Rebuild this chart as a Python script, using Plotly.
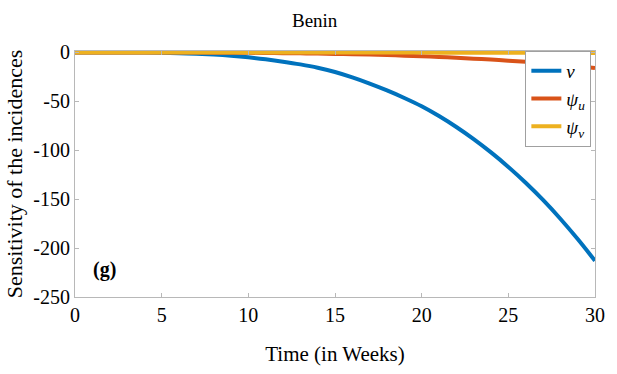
import plotly.graph_objects as go

weeks = list(range(0, 31))
sens_v = [0, 0, -0.01, -0.05, -0.16, -0.38, -0.75, -1.35, -2.2, -3.4, -5.0, -7.0, -9.4, -12.2,
          -15.6, -20, -25.5, -31.8, -38.8, -46.5, -55, -65, -76.2, -88.6, -102.2, -117,
          -133.2, -150.8, -170, -190.8, -213]
sens_psi_u = [0, 0, 0, 0, -0.01, -0.03, -0.06, -0.1, -0.17, -0.25, -0.36, -0.5, -0.68, -0.9,
              -1.15, -1.45, -1.8, -2.2, -2.7, -3.25, -3.9, -4.6, -5.4, -6.3, -7.3, -8.4, -9.6,
              -10.9, -12.4, -14.1, -16]
sens_psi_v = [0, 0, 0, 0, 0, 0, 0, 0, 0, 0, -0.01, -0.01, -0.02, -0.03, -0.04, -0.05, -0.06,
              -0.08, -0.1, -0.12, -0.15, -0.18, -0.21, -0.25, -0.29, -0.34, -0.39, -0.45,
              -0.51, -0.58, -0.65]
x_ticks = [0, 5, 10, 15, 20, 25, 30]
y_ticks = [0, -50, -100, -150, -200, -250]
y_tick_labels = ["0", "-50", "-100", "-150", "-200", "-250"]

FONT = "Liberation Serif"
AX = "#b8b8b8"

fig = go.Figure()
fig.add_trace(go.Scatter(x=weeks, y=sens_v, mode="lines", name="<i>v</i>",
                         line=dict(color="#0072BD", width=4, shape="spline")))
fig.add_trace(go.Scatter(x=weeks, y=sens_psi_u, mode="lines", name="<i>ψ<sub>u</sub></i>",
                         line=dict(color="#D95319", width=4, shape="spline")))
fig.add_trace(go.Scatter(x=weeks, y=sens_psi_v, mode="lines", name="<i>ψ<sub>v</sub></i>",
                         line=dict(color="#EDB120", width=4, shape="spline")))

fig.update_layout(
    width=617, height=374,
    margin=dict(l=75, r=15, t=51, b=75),
    paper_bgcolor="white", plot_bgcolor="white",
    font=dict(family=FONT, size=18, color="black"),
    title=dict(text="Benin", x=0.51, xanchor="center", y=0.945, yanchor="middle",
               font=dict(family=FONT, size=19, color="black")),
    showlegend=True,
    legend=dict(x=0.993, xanchor="right", y=1.0, yanchor="top",
                bgcolor="white", bordercolor="#a0a0a0", borderwidth=1,
                font=dict(family=FONT, size=19, color="black"),
                itemwidth=30, tracegroupgap=0),
    xaxis=dict(range=[0, 30], tickvals=x_ticks, ticks="inside", ticklen=4,
               tickcolor=AX, showline=True, linecolor=AX, linewidth=1, mirror="ticks",
               showgrid=False, zeroline=False,
               tickfont=dict(family=FONT, size=20),
               title=dict(text="Time (in Weeks)", font=dict(family=FONT, size=21), standoff=21)),
    yaxis=dict(range=[-250, 1.5], tickvals=y_ticks, ticktext=y_tick_labels,
               ticks="inside", ticklen=4,
               tickcolor=AX, showline=True, linecolor=AX, linewidth=1, mirror="ticks",
               showgrid=False, zeroline=False,
               tickfont=dict(family=FONT, size=20),
               title=dict(text="Sensitivity of the incidences", font=dict(family=FONT, size=22),
                          standoff=4)),
    annotations=[dict(text="<b>(g)</b>", x=0.03, y=0.11, xref="paper", yref="paper",
                      xanchor="left", yanchor="middle", showarrow=False,
                      font=dict(family=FONT, size=20, color="black"))],
)

fig.write_html("out.html")
